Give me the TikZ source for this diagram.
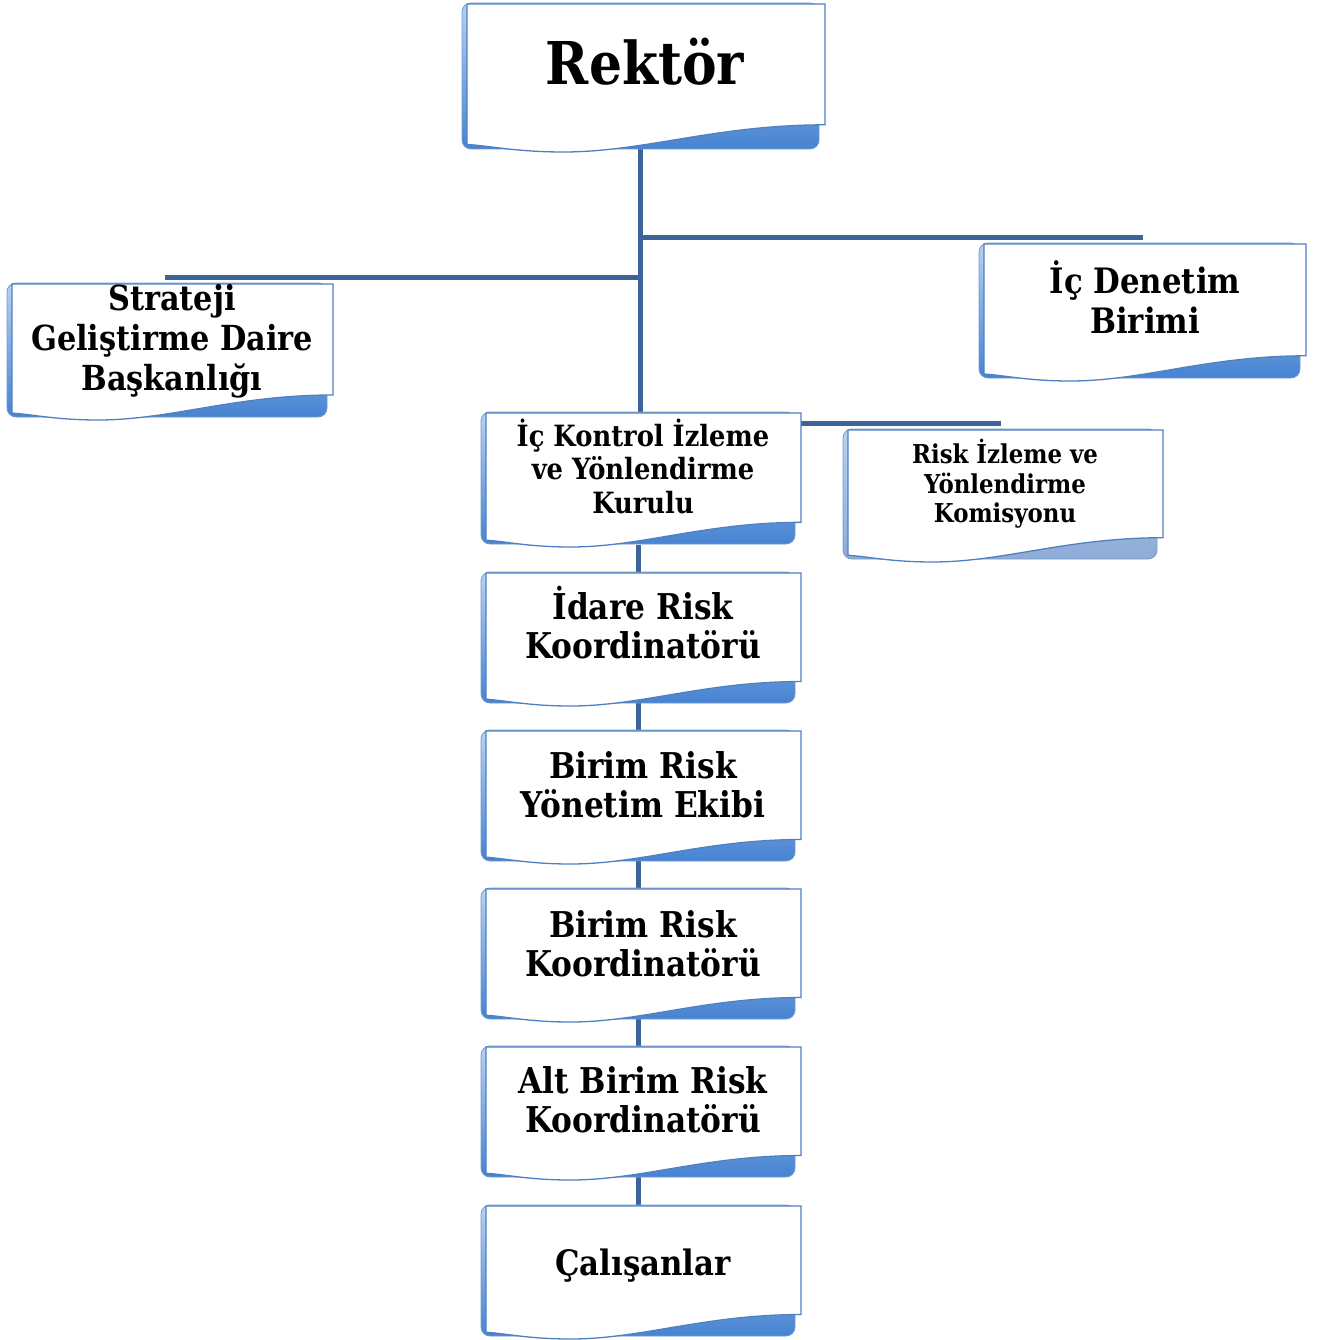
\documentclass[tikz,border=0pt]{standalone}
\usepackage{fontspec}
\setmainfont{DejaVu Serif}[FakeStretch=0.88]
\definecolor{connc}{HTML}{3C6499}
\definecolor{outl}{HTML}{4F80C2}
\definecolor{backtop}{HTML}{B9D1EF}
\definecolor{backbot}{HTML}{4683D2}
\definecolor{palebot}{HTML}{8EABD6}
\tikzset{
  conn/.style={draw=connc,line width=5pt},
  frontdoc/.style={fill=white,draw=outl,line width=1.3pt},
  backdoc/.style={top color=backtop,bottom color=backbot,draw=outl!80,line width=0.8pt,rounded corners=9pt},
  lbl/.style={font=\bfseries,align=center,inner sep=0pt},
}
% #1 name, #2 x0, #3 y0, #4 x1, #5 y1, #6 bottom colour
\newcommand\docshape[6]{%
  \pgfmathsetmacro\dw{#4-#2}\pgfmathsetmacro\dh{#5-#3}%
  \path[backdoc,bottom color=#6] (#2,#3+2) rectangle (#4-6,#5-3);
  \path[frontdoc] (#2+5,#3+3) -- (#4,#3+3) -- (#4,#5-0.18*\dh)
     .. controls (#4-0.3*\dw,#5-0.18*\dh) and (#2+0.5*\dw,#5) .. (#2+0.28*\dw,#5)
     .. controls (#2+0.15*\dw,#5) and (#2+0.08*\dw,#5-0.04*\dh) .. (#2+5,#5-0.05*\dh) -- cycle;
  \coordinate (#1) at ({(#2+#4)/2},{(#3+#5)/2});
}
\begin{document}
\begin{tikzpicture}[x=1pt,y=-1pt]
\useasboundingbox (0,0) rectangle (1322,1340);
% connector anchor points
\coordinate (trunkTop) at (640,148);
\coordinate (trunkBot) at (640,412);
\coordinate (jD) at (640,238);
\coordinate (dEnd) at (1143,238);
\coordinate (jS) at (642,277);
\coordinate (sEnd) at (165,277);
\coordinate (kR) at (798,423);
\coordinate (rEnd) at (1001,423);
\coordinate (stackTop) at (638,545);
\coordinate (stackBot) at (638,1205);
\draw[conn] (trunkTop) -- (trunkBot);
\draw[conn] (jD) -- (dEnd);
\draw[conn] (jS) -- (sEnd);
\draw[conn] (kR) -- (rEnd);
\draw[conn] (stackTop) -- (stackBot);
% boxes
\docshape{rektorC}{462}{1}{825}{152}{backbot}
\docshape{sgdbC}{7}{281}{333}{420}{backbot}
\docshape{idsC}{979}{241}{1306}{381}{backbot}
\docshape{ickC}{481}{410}{801}{547}{backbot}
\docshape{rivkC}{843}{427}{1163}{562}{palebot}
\docshape{irkC}{481}{570}{801}{706}{backbot}
\docshape{bryC}{481}{728}{801}{864}{backbot}
\docshape{brkC}{481}{886}{801}{1022}{backbot}
\docshape{abrkC}{481}{1044}{801}{1180}{backbot}
\docshape{calC}{481}{1203}{801}{1339}{backbot}
% texts
\node[lbl,anchor=base,font=\bfseries\fontsize{59}{64}\selectfont] (rektor) at (645,85) {Rektör};
\node[lbl,font=\bfseries\fontsize{34.5}{40}\selectfont] (sgdb) at (172,341) {Strateji\\Geliştirme Daire\\Başkanlığı};
\node[lbl,font=\bfseries\fontsize{35}{39.5}\selectfont] (ids) at (1145,297) {İç Denetim\\Birimi};
\node[lbl,font=\bfseries\fontsize{29.3}{33.5}\selectfont] (ick) at (643,466) {İç Kontrol İzleme\\ve Yönlendirme\\Kurulu};
\node[lbl,font=\bfseries\fontsize{26}{29.5}\selectfont] (rivk) at (1005,484) {Risk İzleme ve\\Yönlendirme\\Komisyonu};
\node[lbl,font=\bfseries\fontsize{35.5}{39}\selectfont] (irk) at (643,623) {İdare Risk\\Koordinatörü};
\node[lbl,font=\bfseries\fontsize{35.5}{38.5}\selectfont] (bry) at (643,785) {Birim Risk\\Yönetim Ekibi};
\node[lbl,font=\bfseries\fontsize{35.5}{38.5}\selectfont] (brk) at (643,944) {Birim Risk\\Koordinatörü};
\node[lbl,font=\bfseries\fontsize{35.5}{38.5}\selectfont] (abrk) at (643,1100) {Alt Birim Risk\\Koordinatörü};
\node[lbl,anchor=base,font=\bfseries\fontsize{35}{38}\selectfont] (cal) at (643,1275) {Çalışanlar};
\end{tikzpicture}
\end{document}
